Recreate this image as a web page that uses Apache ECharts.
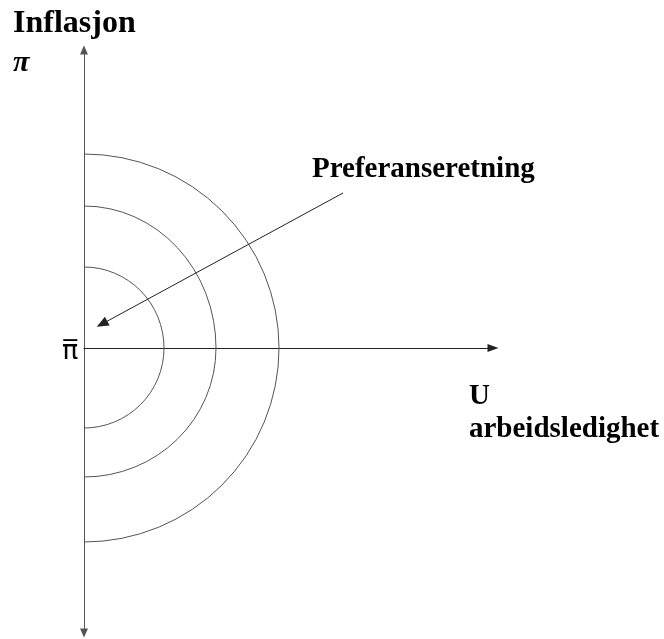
<!DOCTYPE html>
<html>
<head>
<meta charset="utf-8">
<script src="https://cdn.jsdelivr.net/npm/echarts@6/dist/echarts.min.js"></script>
<style>html,body{margin:0;padding:0;background:#fff;}#c{width:664px;height:639px;}</style>
</head>
<body>
<div id="c"></div>
<script>
// Indifference curves (half-ellipses around the origin: target inflation, U = 0)
const curveNames = ['inner', 'middle', 'outer'];
const curveRx = [80, 132, 195];      // extent along U axis
const curveRyTop = [81, 142, 194];   // extent above π̄
const curveRyBottom = [80, 129, 194];// extent below π̄

// Preference direction arrow (start, end) in axis units
const arrowStart = [259, 155];
const arrowEnd = [18, 24];

// Axis ranges
const xRange = [0, 409];
const yRange = [-285, 298];

const chart = echarts.init(document.getElementById('c'));
const serif = '"Liberation Serif", "Times New Roman", serif';

const curveData = curveNames.map((n, i) => [curveRx[i], curveRyTop[i], curveRyBottom[i]]);

chart.setOption({
  animation: false,
  backgroundColor: '#fff',
  grid: { left: 84, right: 171, top: 50, bottom: 6 },
  xAxis: {
    type: 'value', min: xRange[0], max: xRange[1],
    axisLine: { show: true, onZero: true, symbol: ['none', 'triangle'], symbolSize: [8, 11],
      lineStyle: { color: '#222', width: 1 } },
    axisTick: { show: false }, axisLabel: { show: false }, splitLine: { show: false }
  },
  yAxis: {
    type: 'value', min: yRange[0], max: yRange[1],
    axisLine: { show: true, onZero: false, symbol: ['triangle', 'triangle'], symbolSize: [8, 9],
      lineStyle: { color: '#555', width: 1 } },
    axisTick: { show: false }, axisLabel: { show: false }, splitLine: { show: false }
  },
  series: [
    {
      type: 'custom',
      coordinateSystem: 'cartesian2d',
      clip: false,
      data: curveData,
      renderItem: function (params, api) {
        const rx = api.value(0), ryT = api.value(1), ryB = api.value(2);
        const top = api.coord([0, ryT]);
        const right = api.coord([rx, 0]);
        const bottom = api.coord([0, -ryB]);
        const o = api.coord([0, 0]);
        const rxp = right[0] - o[0], ryTp = o[1] - top[1], ryBp = bottom[1] - o[1];
        const d = 'M' + top[0] + ' ' + top[1] +
          ' A' + rxp + ' ' + ryTp + ' 0 0 1 ' + right[0] + ' ' + right[1] +
          ' A' + rxp + ' ' + ryBp + ' 0 0 1 ' + bottom[0] + ' ' + bottom[1];
        return {
          type: 'path',
          shape: { pathData: d },
          style: { fill: 'none', stroke: '#555', lineWidth: 1 }
        };
      }
    },
    {
      type: 'line',
      data: [],
      markLine: {
        silent: true,
        animation: false,
        symbolSize: [10, 12],
        label: { show: false },
        lineStyle: { color: '#222', width: 1, type: 'solid' },
        data: [[
          { coord: arrowStart, symbol: 'none' },
          { coord: arrowEnd, symbol: 'triangle' }
        ]]
      }
    }
  ],
  graphic: [
    { type: 'text', x: 13, y: 24, style: { text: 'Inflasjon', font: 'bold 32px ' + serif, fill: '#000', verticalAlign: 'middle' } },
    { type: 'text', x: 13, y: 63, style: { text: 'π', font: 'bold italic 30px ' + serif, fill: '#000', verticalAlign: 'middle' } },
    { type: 'text', x: 62, y: 352, style: { text: 'π\u0305', font: '27px "DejaVu Sans", sans-serif', fill: '#000', verticalAlign: 'middle' } },
    { type: 'text', x: 312, y: 170, style: { text: 'Preferanseretning', font: 'bold 29px ' + serif, fill: '#000', verticalAlign: 'middle' } },
    { type: 'text', x: 469, y: 397, style: { text: 'U', font: 'bold 29px ' + serif, fill: '#000', verticalAlign: 'middle' } },
    { type: 'text', x: 469, y: 430, style: { text: 'arbeidsledighet', font: 'bold 29px ' + serif, fill: '#000', verticalAlign: 'middle' } }
  ]
});
</script>
</body>
</html>
